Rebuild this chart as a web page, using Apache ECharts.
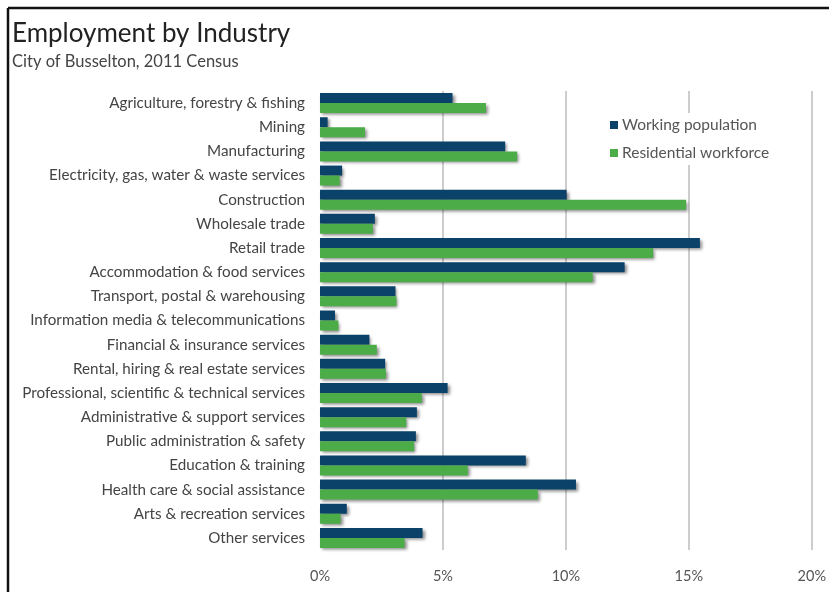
<!DOCTYPE html>
<html><head><meta charset="utf-8">
<script src="https://cdn.jsdelivr.net/npm/echarts@6/dist/echarts.min.js"></script>
<style>html,body{margin:0;padding:0;background:#fff}#c{width:829px;height:592px}</style>
</head><body><div id="c"></div>
<script>
const categories = [
  "Agriculture, forestry & fishing","Mining","Manufacturing",
  "Electricity, gas, water & waste services","Construction","Wholesale trade",
  "Retail trade","Accommodation & food services","Transport, postal & warehousing",
  "Information media & telecommunications","Financial & insurance services",
  "Rental, hiring & real estate services","Professional, scientific & technical services",
  "Administrative & support services","Public administration & safety",
  "Education & training","Health care & social assistance",
  "Arts & recreation services","Other services"
];
const workingPopulation = [5.39,0.31,7.53,0.90,10.03,2.23,15.45,12.39,3.07,0.61,2.01,2.65,5.19,3.94,3.90,8.37,10.41,1.09,4.17];
const residentialWorkforce = [6.75,1.83,8.02,0.80,14.89,2.15,13.55,11.09,3.11,0.75,2.31,2.68,4.14,3.51,3.83,6.01,8.86,0.84,3.44];
const xTicks = [0,5,10,15,20];

const font = "Lato, 'Open Sans', sans-serif";
const chart = echarts.init(document.getElementById('c'), null, {renderer:'canvas'});
const shadow = {shadowColor:'rgba(0,0,0,0.45)', shadowBlur:3, shadowOffsetX:2, shadowOffsetY:2};
chart.setOption({
  animation:false,
  backgroundColor:'#fff',
  title:[
    {text:'Employment by Industry', left:7, top:21, padding:[0,5],
      textStyle:{fontFamily:font, fontSize:26, fontWeight:'normal', color:'#222'}},
    {text:'City of Busselton, 2011 Census', left:7, top:53, padding:[0,5],
      textStyle:{fontFamily:font, fontSize:16.5, fontWeight:'normal', color:'#444'}}
  ],
  legend:{
    orient:'vertical', left:604, top:113, itemGap:12,
    itemWidth:8, itemHeight:8, icon:'rect',
    backgroundColor:'#fff', padding:[4,6,4,6],
    textStyle:{fontFamily:font, fontSize:15.5, color:'#555', padding:[0,0,0,-1]},
    data:['Working population','Residential workforce']
  },
  grid:{left:320, right:17, top:91, bottom:42, containLabel:false},
  xAxis:{
    type:'value', min:0, max:20, interval:5,
    axisLine:{show:false}, axisTick:{show:false},
    splitLine:{show:true, showMinLine:false, lineStyle:{color:'#bdbdbd', width:1.5}},
    axisLabel:{fontFamily:font, fontSize:14.5, color:'#555', margin:19,
      formatter:v => xTicks.includes(v) ? v + '%' : ''}
  },
  yAxis:{
    type:'category', inverse:true, data:categories,
    axisLine:{show:false}, axisTick:{show:false},
    axisLabel:{fontFamily:font, fontSize:15.2, color:'#444', margin:15}
  },
  series:[
    {name:'Working population', type:'bar', data:workingPopulation, barWidth:10, barGap:'0%',
      itemStyle:Object.assign({color:'#0b4269'}, shadow)},
    {name:'Residential workforce', type:'bar', data:residentialWorkforce, barWidth:10, barGap:'0%',
      itemStyle:Object.assign({color:'#4cad48'}, shadow)}
  ],
  graphic:[
    {type:'line', shape:{x1:8, y1:8, x2:829, y2:8}, style:{stroke:'#111', lineWidth:2.5}, z:100},
    {type:'line', shape:{x1:8, y1:8, x2:8, y2:592}, style:{stroke:'#111', lineWidth:2.5}, z:100}
  ]
});
</script></body></html>
